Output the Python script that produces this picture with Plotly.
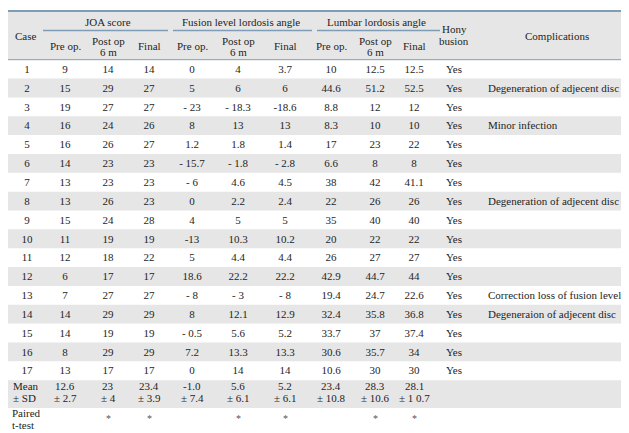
import plotly.graph_objects as go

# ---------------- data ----------------
cases = [str(i) for i in range(1, 18)]
joa_pre = ["9", "15", "19", "16", "16", "14", "13", "13", "15", "11", "12", "6", "7", "14", "14", "8", "13"]
joa_post = ["14", "29", "27", "24", "26", "23", "23", "26", "24", "19", "18", "17", "27", "29", "19", "29", "17"]
joa_final = ["14", "27", "27", "26", "27", "23", "23", "23", "28", "19", "22", "17", "27", "29", "19", "29", "17"]
fus_pre = ["0", "5", "- 23", "8", "1.2", "- 15.7", "- 6", "0", "4", "-13", "5", "18.6", "- 8", "8", "- 0.5", "7.2", "0"]
fus_post = ["4", "6", "- 18.3", "13", "1.8", "- 1.8", "4.6", "2.2", "5", "10.3", "4.4", "22.2", "- 3", "12.1", "5.6", "13.3", "14"]
fus_final = ["3.7", "6", "-18.6", "13", "1.4", "- 2.8", "4.5", "2.4", "5", "10.2", "4.4", "22.2", "- 8", "12.9", "5.2", "13.3", "14"]
lum_pre = ["10", "44.6", "8.8", "8.3", "17", "6.6", "38", "22", "35", "20", "26", "42.9", "19.4", "32.4", "33.7", "30.6", "10.6"]
lum_post = ["12.5", "51.2", "12", "10", "23", "8", "42", "26", "40", "22", "27", "44.7", "24.7", "35.8", "37", "35.7", "30"]
lum_final = ["12.5", "52.5", "12", "10", "22", "8", "41.1", "26", "40", "22", "27", "44", "22.6", "36.8", "37.4", "34", "30"]
hony = ["Yes"] * 17
complications = ["", "Degeneration of adjecent disc", "", "Minor infection", "", "", "",
                 "Degeneration of adjecent disc", "", "", "", "", "Correction loss of fusion level",
                 "Degeneraion of adjecent disc", "", "", ""]

mean_vals = ["12.6", "23", "23.4", "-1.0", "5.6", "5.2", "23.4", "28.3", "28.1"]
sd_vals = ["± 2.7", "± 4", "± 3.9", "± 7.4", "± 6.1", "± 6.1", "± 10.8", "± 10.6", "± 1 0.7"]
paired = ["", "*", "*", "", "*", "*", "", "*", "*"]

group_titles = ["JOA score", "Fusion level lordosis angle", "Lumbar lordosis angle"]
sub_titles = [["Pre op."], ["Post op", "6 m"], ["Final"]]

# ---------------- layout constants ----------------
W, H = 629, 433
FONT = "Liberation Serif"
FS = 11
TXT = "#1e1e1e"
GREY = "#e6e6e6"
LINE = "#7f9db6"
RIGHT = 626

col_x = [57, 100, 141, 184, 230, 277, 323, 367, 406]
case_x = 19
hony_x = 446
comp_x = 480
comp_title_x = 549
group_spans = [(35, 160, 100), (165, 304, 233), (309, 432, 368)]

head_top, head_bot = 3, 51.7
row_h = 18.85
row_c = [head_bot + row_h * (i + 0.5) + 1 for i in range(17)]
rows_end = head_bot + row_h * 17
mean_top, mean_bot = rows_end, 400
bottom = 429.5

fig = go.Figure()

shapes = []
shapes.append(dict(type="rect", x0=0, x1=RIGHT, y0=head_top, y1=head_bot,
                   fillcolor=GREY, line_width=0, layer="below"))
for i in range(17):
    if (i + 1) % 2 == 0:
        shapes.append(dict(type="rect", x0=0, x1=RIGHT, y0=head_bot + row_h * i,
                           y1=head_bot + row_h * (i + 1), fillcolor=GREY, line_width=0, layer="below"))
shapes.append(dict(type="rect", x0=0, x1=RIGHT, y0=mean_top, y1=mean_bot,
                   fillcolor=GREY, line_width=0, layer="below"))
shapes.append(dict(type="line", x0=0, x1=RIGHT, y0=head_top, y1=head_top, line=dict(color=LINE, width=2)))
shapes.append(dict(type="line", x0=0, x1=RIGHT, y0=head_bot, y1=head_bot, line=dict(color=LINE, width=1)))
shapes.append(dict(type="line", x0=0, x1=RIGHT, y0=bottom, y1=bottom, line=dict(color=LINE, width=2)))
for x0, x1, _ in group_spans:
    shapes.append(dict(type="line", x0=x0, x1=x1, y0=22.5, y1=22.5, line=dict(color=LINE, width=1.5)))

annotations = []


def ann(x, y, text, xanchor="center", size=FS, color=TXT):
    annotations.append(dict(x=x, y=y, text=text, showarrow=False, xanchor=xanchor, yanchor="middle",
                            font=dict(family=FONT, size=size, color=color), align="center"))


def ann_lines(x, y_center, lines, spacing=11.5, xanchor="center"):
    n = len(lines)
    for k, t in enumerate(lines):
        ann(x, y_center + (k - (n - 1) / 2) * spacing, t, xanchor=xanchor)


ann(case_x - 1, 28, "Case")
for (x0, x1, cx), title in zip(group_spans, group_titles):
    ann(cx, 14, title)
for j, cx in enumerate(col_x):
    ann_lines(cx, 38, sub_titles[j % 3], spacing=11)
ann_lines(hony_x, 27, ["Hony", "busion"], spacing=12.5)
ann(comp_title_x, 28, "Complications")

columns = [joa_pre, joa_post, joa_final, fus_pre, fus_post, fus_final, lum_pre, lum_post, lum_final]
tf = dict(family=FONT, size=FS, color=TXT)
fig.add_trace(go.Scatter(x=[case_x] * 17, y=row_c, text=cases, mode="text",
                         textposition="middle center", textfont=tf, hoverinfo="skip"))
for cx, vals in zip(col_x, columns):
    fig.add_trace(go.Scatter(x=[cx] * 17, y=row_c, text=vals, mode="text",
                             textposition="middle center", textfont=tf, hoverinfo="skip"))
fig.add_trace(go.Scatter(x=[hony_x] * 17, y=row_c, text=hony, mode="text",
                         textposition="middle center", textfont=tf, hoverinfo="skip"))
fig.add_trace(go.Scatter(x=[comp_x] * 17, y=row_c, text=complications, mode="text",
                         textposition="middle right", textfont=tf, hoverinfo="skip"))

mean_y = 384
paired_y = 411
ann_lines(3, mean_y, ["Mean", "± SD"], xanchor="left")
ann_lines(2, paired_y, ["Paired", "t-test"], spacing=12)
annotations[-2]["xanchor"] = "left"
annotations[-1]["xanchor"] = "left"
for cx, m, s in zip(col_x, mean_vals, sd_vals):
    ann_lines(cx, mean_y, [m, s])
for cx, t in zip(col_x, paired):
    if t:
        ann(cx, paired_y - 1, t, size=10, color="#555")

fig.update_layout(
    width=W, height=H, margin=dict(l=0, r=0, t=0, b=0),
    paper_bgcolor="white", plot_bgcolor="white", showlegend=False,
    xaxis=dict(range=[0, W], visible=False, fixedrange=True),
    yaxis=dict(range=[H, 0], visible=False, fixedrange=True),
    shapes=shapes, annotations=annotations,
)

fig.write_html("out.html")
